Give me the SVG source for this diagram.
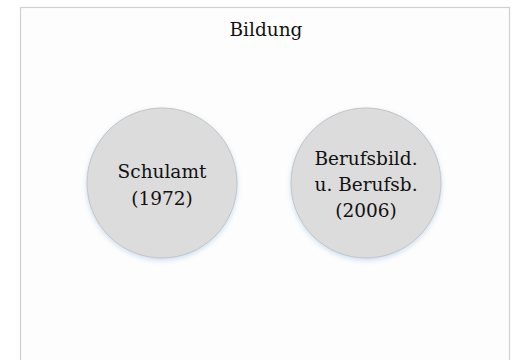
<svg xmlns="http://www.w3.org/2000/svg" width="517" height="360" viewBox="0 0 517 360">
<style>
.t{font-family:"DejaVu Serif","Liberation Serif",serif;font-size:18.5px;fill:#111;text-anchor:middle}
.c{fill:#dcdcdc;stroke:#c4c4c4;stroke-width:1}
</style>
<defs>
<filter id="sh" x="-20%" y="-20%" width="140%" height="140%">
<feGaussianBlur in="SourceAlpha" stdDeviation="2.5"/>
<feOffset dx="0" dy="2" result="b"/>
<feFlood flood-color="#9cc0e8" flood-opacity="0.5"/>
<feComposite in2="b" operator="in"/>
<feMerge><feMergeNode/><feMergeNode in="SourceGraphic"/></feMerge>
</filter>
</defs>
<rect width="517" height="360" fill="#ffffff"/>
<g id="bildung">
<rect x="20.5" y="7.5" width="489" height="360" fill="#fdfdfd" stroke="#cfcfd4" stroke-width="1.2"/>
<text class="t" x="266" y="36">Bildung</text>
</g>
<g id="connectors"></g>
<g id="schulamt">
<circle class="c" cx="162" cy="183" r="75" filter="url(#sh)"/>
<text class="t" x="162" y="178">Schulamt</text>
<text class="t" x="162" y="205">(1972)</text>
</g>
<g id="berufsbildung">
<circle class="c" cx="366" cy="183" r="75" filter="url(#sh)"/>
<text class="t" x="366" y="165">Berufsbild.</text>
<text class="t" x="366" y="191">u. Berufsb.</text>
<text class="t" x="366" y="217">(2006)</text>
</g>
</svg>
